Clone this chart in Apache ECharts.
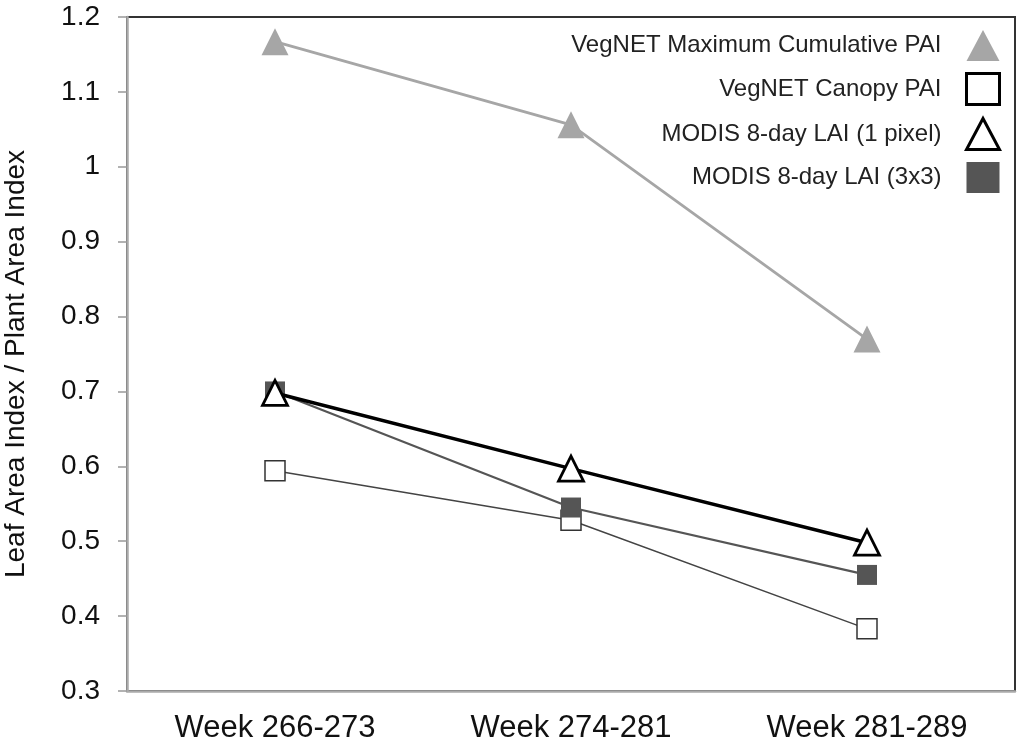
<!DOCTYPE html>
<html>
<head>
<meta charset="utf-8">
<script src="https://cdn.jsdelivr.net/npm/echarts@6/dist/echarts.min.js"></script>
<style>
  html, body { margin: 0; padding: 0; background: #fff; }
  #chart { width: 1024px; height: 750px; }
</style>
</head>
<body>
<div id="chart"></div>
<script>
const weeks = ['Week 266-273', 'Week 274-281', 'Week 281-289'];
const maxCumulativePAI = [1.167, 1.056, 0.77];
const canopyPAI = [0.594, 0.528, 0.383];
const modis1Pixel = [0.698, 0.597, 0.498];
const modis3x3 = [0.7, 0.545, 0.455];

const font = 'Liberation Sans, Arial, sans-serif';

const seriesDefs = [
    {
        name: 'VegNET Maximum Cumulative PAI',
        data: maxCumulativePAI,
        symbol: 'triangle',
        symbolSize: 27,
        z: 2,
        line: { color: '#a6a6a6', width: 2.8 },
        item: { color: '#a6a6a6', borderWidth: 0 },
    },
    {
        name: 'VegNET Canopy PAI',
        data: canopyPAI,
        symbol: 'rect',
        symbolSize: 20,
        z: 2,
        line: { color: '#444', width: 1.5 },
        item: { color: '#fff', borderColor: '#333', borderWidth: 1.5 },
    },
    {
        name: 'MODIS 8-day LAI (1 pixel)',
        data: modis1Pixel,
        symbol: 'triangle',
        symbolSize: 25,
        z: 4,
        line: { color: '#000', width: 3.5 },
        item: { color: '#fff', borderColor: '#000', borderWidth: 2.8 },
    },
    {
        name: 'MODIS 8-day LAI (3x3)',
        data: modis3x3,
        symbol: 'rect',
        symbolSize: 20,
        z: 3,
        line: { color: '#555', width: 2.2 },
        item: { color: '#555', borderWidth: 0 },
    },
];

const legendIcons = [
    { color: '#a6a6a6', borderWidth: 0 },
    { color: '#fff', borderColor: '#000', borderWidth: 3 },
    { color: '#fff', borderColor: '#000', borderWidth: 3 },
    { color: '#555', borderWidth: 0 },
];

const chart = echarts.init(document.getElementById('chart'));

chart.setOption({
    animation: false,
    textStyle: { fontFamily: font },
    grid: {
        left: 127, right: 9, top: 17, bottom: 59,
        outerBoundsMode: 'none',
        containLabel: false,
        show: true, borderColor: '#333', borderWidth: 2,
    },
    legend: {
        orient: 'vertical',
        right: 18,
        top: 25,
        align: 'right',
        itemWidth: 33,
        itemHeight: 31,
        itemGap: 11,
        textStyle: { fontSize: 24, color: '#222', fontFamily: font, padding: [0, 20, 0, 0] },
        data: seriesDefs.map((s, i) => ({
            name: s.name,
            icon: s.symbol,
            itemStyle: legendIcons[i],
        })),
    },
    xAxis: {
        type: 'category',
        data: weeks,
        boundaryGap: true,
        axisLine: { lineStyle: { color: '#aaa', width: 2.5 } },
        axisTick: { inside: true, length: 7, lineStyle: { color: '#999', width: 1.5 } },
        axisLabel: { fontSize: 31, color: '#111', margin: 22 },
        splitLine: { show: false },
    },
    yAxis: {
        type: 'value',
        min: 0.3,
        max: 1.2,
        interval: 0.1,
        name: 'Leaf Area Index / Plant Area Index',
        nameLocation: 'middle',
        nameGap: 97,
        nameTextStyle: { fontSize: 28, color: '#111', padding: [0, 20, 0, 0] },
        axisLine: { show: true, lineStyle: { color: '#aaa', width: 2.5 } },
        axisTick: { show: true, length: 9, lineStyle: { color: '#999', width: 1.5 } },
        axisLabel: { fontSize: 28, color: '#111', margin: 27 },
        splitLine: { show: false },
    },
    series: seriesDefs.map(s => ({
        name: s.name,
        type: 'line',
        data: s.data,
        symbol: s.symbol,
        symbolSize: s.symbolSize,
        z: s.z,
        lineStyle: s.line,
        itemStyle: s.item,
        showAllSymbol: true,
    })),
});
</script>
</body>
</html>
